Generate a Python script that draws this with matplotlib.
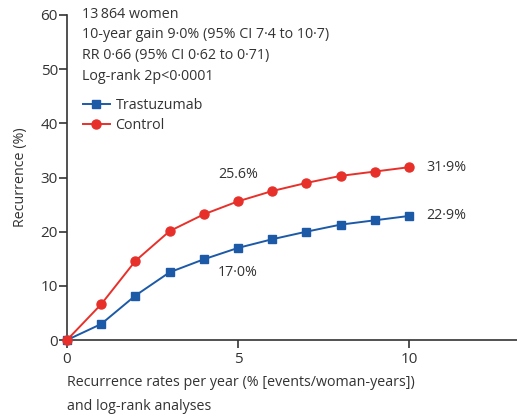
import matplotlib.pyplot as plt

plt.rcParams['font.family'] = ['Open Sans', 'DejaVu Sans']

# Cumulative recurrence by year (%)
years = [0, 1, 2, 3, 4, 5, 6, 7, 8, 9, 10]
trastuzumab = [0, 2.95, 8.2, 12.5, 14.9, 17.0, 18.6, 20.0, 21.3, 22.1, 22.9]
control = [0, 6.6, 14.6, 20.1, 23.2, 25.6, 27.5, 29.0, 30.3, 31.1, 31.9]

stats_lines = [
    '13\u2009864 women',
    '10-year gain 9·0% (95% CI 7·4 to 10·7)',
    'RR 0·66 (95% CI 0·62 to 0·71)',
    'Log-rank 2p<0·0001',
]

red = '#e8302a'
blue = '#1c5aa8'
txt = '#333333'
fs = 10.3

fig = plt.figure(figsize=(5.17, 4.2), dpi=100)
ax = fig.add_axes([67/517, 80/420, 450/517, 325/420])

ax.plot(years, trastuzumab, color=blue, marker='s', markersize=5.3, lw=1.4,
        label='Trastuzumab', clip_on=False, zorder=3)
ax.plot(years, control, color=red, marker='o', markersize=6.5, lw=1.4,
        label='Control', clip_on=False, zorder=3)

ax.set_xlim(0, 450/34.2)
ax.set_ylim(0, 60)
ax.set_xticks([0, 5, 10])
ax.set_yticks(range(0, 61, 10))
for s in ['top', 'right']:
    ax.spines[s].set_visible(False)
for s in ['left', 'bottom']:
    ax.spines[s].set_color(txt)
    ax.spines[s].set_linewidth(1.2)
ax.tick_params(colors=txt, labelcolor=txt, labelsize=11, length=5.5, width=1.2)
ax.tick_params(axis='x', pad=3)
ax.tick_params(axis='y', pad=1)

ax.set_ylabel('Recurrence (%)', fontsize=fs, color=txt, labelpad=9)

# 5-year and 10-year values
ax.text(5, 30.6, '25.6%', ha='center', va='center', fontsize=fs, color=txt)
ax.text(5, 12.5, '17·0%', ha='center', va='center', fontsize=fs, color=txt)
ax.text(10.5, control[-1], '31·9%', ha='left', va='center', fontsize=fs, color=txt)
ax.text(10.5, trastuzumab[-1], '22·9%', ha='left', va='center', fontsize=fs, color=txt)

for i, line in enumerate(stats_lines):
    fig.text(82/517, 1 - (14 + 20.7*i)/420, line, ha='left', va='center',
             fontsize=fs, color=txt)

ax.legend(loc='upper left', bbox_to_anchor=(10/450, 1 - 77/325), frameon=False,
          fontsize=fs, handlelength=1.9, handletextpad=0.4, labelspacing=0.35,
          borderaxespad=0, labelcolor=txt)

fig.text(67/517, 1 - 383/420, 'Recurrence rates per year (% [events/woman-years])',
         ha='left', va='center', fontsize=fs, color=txt)
fig.text(67/517, 1 - 407/420, 'and log-rank analyses',
         ha='left', va='center', fontsize=fs, color=txt)

fig.savefig('out.png', dpi=100)
